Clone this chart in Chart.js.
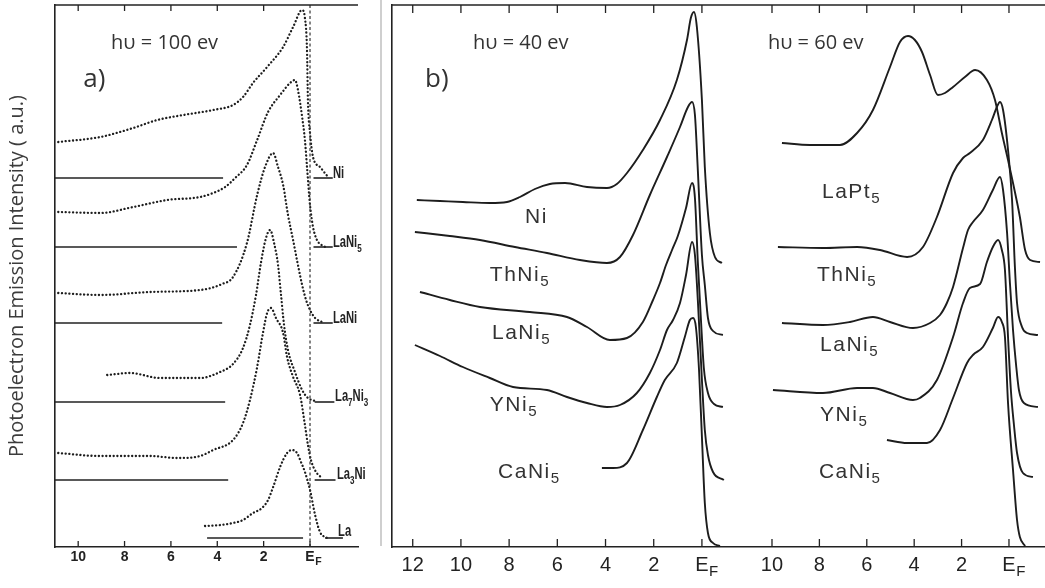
<!DOCTYPE html>
<html>
<head>
<meta charset="utf-8">
<script src="https://cdn.jsdelivr.net/npm/chart.js@4.4.1/dist/chart.umd.min.js"></script>
<style>
  html, body { margin: 0; padding: 0; background: #fff; }
  #wrap { position: relative; width: 1045px; height: 588px; overflow: hidden; }
  .box { position: absolute; top: 0; height: 588px; }
  #sep { position: absolute; left: 380px; top: 0; width: 2px; height: 546px; background: #cfcfcf; }
</style>
</head>
<body>
<div id="wrap">
  <div class="box" style="left:0;width:378px"><canvas id="chartA"></canvas></div>
  <div id="sep"></div>
  <div class="box" style="left:380px;width:360px"><canvas id="chartB"></canvas></div>
  <div class="box" style="left:740px;width:305px"><canvas id="chartC"></canvas></div>
</div>
<script>
// binding energy ticks (eV below E_F), 0 is E_F
const ticksA = [10, 8, 6, 4, 2, 0];
const ticks40 = [12, 10, 8, 6, 4, 2, 0];
const ticks60 = [10, 8, 6, 4, 2, 0];

// panel a, hv = 100 eV : [energy, intensity a.u.]
const a100Ni = [[10.86,405],[9.05,410],[7.63,419],[6.59,427],[5.47,432],[4.18,437],[3.32,442],[2.89,450],[2.46,464],[1.85,480],[1.16,500],[0.73,520],[0.34,537],[0.22,529],[0.13,497],[0.09,447],[0,414],[-0.13,390],[-0.43,380],[-0.78,370]];
const a100LaNi5 = [[10.86,335],[9.05,334],[7.63,340],[6.16,347],[4.74,350],[4.18,354],[3.66,360],[3.23,369],[2.72,382],[2.28,407],[1.81,435],[1.29,452],[0.86,464],[0.65,467],[0.52,457],[0.34,430],[0.22,407],[0.13,380],[0,342],[-0.13,320],[-0.30,307],[-0.65,300]];
const a100LaNi = [[10.86,254],[9.05,252],[6.90,255],[4.74,257],[3.79,263],[3.32,270],[2.72,304],[2.28,352],[1.94,380],[1.59,394],[1.38,380],[1.16,362],[0.95,332],[0.73,307],[0.52,282],[0.34,262],[0.17,247],[0,237],[-0.22,229],[-0.52,225]];
const a100La7Ni3 = [[8.75,172],[7.76,174],[6.47,169],[4.74,169],[3.88,175],[3.32,183],[2.89,199],[2.59,222],[2.33,252],[2.11,285],[1.90,309],[1.72,317],[1.55,304],[1.38,282],[1.25,252],[1.12,222],[0.95,197],[0.65,175],[0.34,157],[0.09,149],[-0.22,146]];
const a100La3Ni = [[10.86,94],[9.05,91],[6.90,91],[5.73,89],[4.74,91],[4.18,97],[3.32,107],[2.89,124],[2.59,147],[2.28,180],[2.03,214],[1.85,234],[1.68,239],[1.47,229],[1.16,214],[0.99,190],[0.73,170],[0.43,152],[0.22,122],[0.09,102],[-0.04,87],[-0.26,75],[-0.52,69]];
const a100La = [[4.53,21],[3.88,22],[3.32,24],[2.89,27],[2.46,34],[2.07,39],[1.81,47],[1.59,60],[1.29,80],[0.99,94],[0.78,97],[0.56,94],[0.39,85],[0.22,75],[0,57],[-0.22,32],[-0.43,15],[-0.73,9]];
// zero lines: [from, to, level]
const a100BaseLeft = [[11,3.75,369],[11,3.15,300],[11,3.79,224],[11,3.66,145],[11,3.53,67],[4.44,0.30,9]];
const a100BaseRight = [[-0.15,-0.98,369],[-0.15,-0.98,300],[-0.15,-0.98,224],[-0.2,-1.05,145],[-0.2,-1.1,67],[-0.65,-1.42,9]];
const fermiLine = [[0,0],[0,542]];

// panel b, hv = 40 eV
const b40Ni = [[11.83,347],[10.87,346],[9.92,345],[8.80,344],[8.09,345],[7.55,350],[6.93,358],[6.31,363],[5.68,364],[4.77,360],[3.94,359],[3.53,363],[3.11,374],[2.45,397],[1.74,427],[1.04,467],[0.62,507],[0.46,529],[0.33,535],[0.21,520],[0,447],[-0.12,380],[-0.33,314],[-0.54,290],[-0.83,284]];
const b40ThNi5 = [[11.91,315],[10.46,311],[9.21,307],[7.76,300],[6.43,294],[5.06,287],[3.94,284],[3.40,290],[2.86,312],[2.16,352],[1.45,390],[0.91,420],[0.58,440],[0.41,445],[0.29,432],[0.17,377],[0,292],[-0.12,262],[-0.25,229],[-0.46,216],[-0.87,212]];
const b40LaNi5 = [[11.70,255],[10.46,247],[9.21,240],[7.14,235],[5.60,230],[4.77,220],[3.82,207],[3.11,209],[2.45,225],[2.03,247],[1.74,264],[1.49,282],[1.24,297],[1.00,311],[0.66,339],[0.41,364],[0.29,349],[0.17,285],[0.04,227],[-0.08,179],[-0.25,154],[-0.50,143],[-0.87,140]];
const b40YNi5 = [[11.91,202],[10.87,191],[9.92,180],[8.80,169],[7.84,160],[6.43,157],[5.60,150],[4.77,144],[3.94,140],[3.40,142],[2.70,154],[2.16,174],[1.74,197],[1.45,217],[1.20,227],[0.91,244],[0.66,272],[0.41,305],[0.29,292],[0.17,247],[0,167],[-0.12,117],[-0.25,92],[-0.46,75],[-0.91,67]];
const b40CaNi5 = [[4.15,79],[3.69,79],[3.11,84],[2.45,117],[1.87,150],[1.54,167],[1.04,184],[0.71,210],[0.50,227],[0.37,229],[0.25,220],[0.12,177],[0,110],[-0.12,44],[-0.25,14],[-0.46,4],[-0.75,1]];

// panel b, hv = 60 eV
const b60LaPt5 = [[9.58,404],[8.40,402],[7.13,402],[6.41,414],[5.74,437],[5.02,480],[4.60,505],[4.26,511],[3.97,507],[3.67,495],[3.33,472],[3.00,452],[2.70,454],[2.36,460],[1.86,470],[1.43,477],[0.93,467],[0.59,447],[0.30,414],[0.04,387],[-0.17,364],[-0.46,330],[-0.68,297],[-0.89,287],[-1.31,285]];
const b60ThNi5 = [[9.75,300],[7.85,299],[6.41,300],[5.44,297],[4.30,290],[3.63,300],[3.04,330],[2.36,374],[1.94,389],[1.65,394],[1.10,407],[0.72,427],[0.51,440],[0.38,445],[0.25,437],[0.04,397],[-0.13,347],[-0.25,280],[-0.34,244],[-0.55,220],[-0.76,214],[-1.22,212]];
const b60LaNi5 = [[9.58,224],[7.85,222],[6.71,225],[5.74,230],[5.02,225],[4.05,219],[3.33,224],[2.91,232],[2.62,244],[2.36,260],[1.94,299],[1.73,317],[1.52,325],[1.10,337],[0.68,357],[0.38,370],[0.25,357],[0.08,314],[-0.04,264],[-0.17,217],[-0.30,182],[-0.42,157],[-0.63,144],[-1.22,140]];
const b60YNi5 = [[9.96,157],[7.85,154],[6.41,159],[5.74,159],[5.02,154],[4.05,147],[3.76,149],[3.04,167],[2.36,210],[1.94,244],[1.65,259],[1.22,263],[0.93,285],[0.68,300],[0.46,307],[0.30,297],[0.17,277],[0.04,210],[-0.08,157],[-0.21,122],[-0.34,94],[-0.59,74],[-1.01,70]];
const b60CaNi5 = [[5.15,107],[4.30,104],[3.46,104],[2.91,117],[2.36,149],[1.77,184],[1.52,192],[1.10,200],[0.68,219],[0.46,230],[0.30,225],[0.17,210],[0.04,144],[-0.17,77],[-0.34,27],[-0.46,10],[-0.68,1]];

// text styles
const st = {
  head: { size: 20, family: '"Open Sans", sans-serif', color: '#333' },
  tag: { size: 26, family: '"Open Sans", sans-serif', color: '#333' },
  smallA: { size: 16, family: '"Liberation Sans", sans-serif', weight: 'bold', color: '#222', base: 'alphabetic', sx: 0.7 },
  lab: { size: 21, family: '"Liberation Sans", sans-serif', color: '#333', spacing: '1.5px' }
};

const textsA = [
  { t: 'hυ = 100 ev', x: 8.58, y: 504, s: st.head },
  { t: 'a)', x: 9.78, y: 467, s: st.tag },
  { t: 'Ni', x: -0.99, y: 369, s: st.smallA },
  { t: 'LaNi_5', x: -0.99, y: 300, s: st.smallA },
  { t: 'LaNi', x: -0.99, y: 224, s: st.smallA },
  { t: 'La_7Ni_3', x: -1.08, y: 146, s: st.smallA },
  { t: 'La_3Ni', x: -1.16, y: 68, s: st.smallA },
  { t: 'La', x: -1.21, y: 11, s: st.smallA }
];
const textsB = [
  { t: 'hυ = 40 ev', x: 9.50, y: 504, s: st.head },
  { t: 'b)', x: 11.49, y: 467, s: st.tag },
  { t: 'Ni', x: 7.34, y: 330, s: st.lab },
  { t: 'ThNi_5', x: 8.80, y: 272, s: st.lab },
  { t: 'LaNi_5', x: 8.71, y: 214, s: st.lab },
  { t: 'YNi_5', x: 8.80, y: 142, s: st.lab },
  { t: 'CaNi_5', x: 8.46, y: 75, s: st.lab }
];
const textsC = [
  { t: 'hυ = 60 ev', x: 10.17, y: 504, s: st.head },
  { t: 'LaPt_5', x: 7.89, y: 355, s: st.lab },
  { t: 'ThNi_5', x: 8.10, y: 272, s: st.lab },
  { t: 'LaNi_5', x: 7.97, y: 202, s: st.lab },
  { t: 'YNi_5', x: 7.97, y: 132, s: st.lab },
  { t: 'CaNi_5', x: 8.02, y: 75, s: st.lab }
];

const toXY = pts => pts.map(p => ({ x: p[0], y: p[1] }));

function curve(pts, dotted) {
  return {
    data: toXY(pts),
    borderColor: '#1d1d1d',
    borderWidth: dotted ? 2.3 : 1.9,
    borderDash: dotted ? [0.1, 3.6] : [],
    borderCapStyle: dotted ? 'round' : 'butt',
    cubicInterpolationMode: 'monotone',
    pointRadius: 0
  };
}
function zeroLine(b) {
  return { data: [{ x: b[0], y: b[2] }, { x: b[1], y: b[2] }], borderColor: '#222', borderWidth: 1.6, pointRadius: 0 };
}

// labels like LaNi_5 (single character after "_" is a subscript)
function drawRich(ctx, str, px, py, s) {
  const parts = [];
  for (let i = 0; i < str.length; i++) {
    if (str[i] === '_') { parts.push({ s: str[i + 1], sub: true }); i++; }
    else if (parts.length && !parts[parts.length - 1].sub) parts[parts.length - 1].s += str[i];
    else parts.push({ s: str[i], sub: false });
  }
  ctx.save();
  ctx.translate(px, py);
  ctx.scale(s.sx || 1, 1);
  ctx.fillStyle = s.color;
  ctx.textAlign = 'left';
  ctx.textBaseline = s.base || 'middle';
  if ('letterSpacing' in ctx) ctx.letterSpacing = s.spacing || '0px';
  let cx = 0;
  parts.forEach(p => {
    const size = p.sub ? s.size * 0.72 : s.size;
    ctx.font = `${s.weight || 'normal'} ${size}px ${s.family}`;
    ctx.fillText(p.s, cx, p.sub ? s.size * 0.33 : 0);
    cx += ctx.measureText(p.s).width;
  });
  ctx.restore();
}

const decor = {
  id: 'decor',
  afterDraw(chart, args, o) {
    const { ctx, chartArea: a } = chart;
    const xs = chart.scales.x, ys = chart.scales.y;
    ctx.save();
    ctx.strokeStyle = '#222';
    ctx.lineWidth = 1.6;
    ctx.beginPath(); ctx.moveTo(a.left, a.top); ctx.lineTo(a.right, a.top); ctx.stroke();
    ctx.lineWidth = 1.3;
    xs.ticks.forEach(t => {
      const px = xs.getPixelForValue(t.value);
      ctx.beginPath();
      ctx.moveTo(px, a.bottom); ctx.lineTo(px, a.bottom - o.tickLen);
      if (t.value !== 0 || o.topEF) { ctx.moveTo(px, a.top); ctx.lineTo(px, a.top + o.tickLen); }
      ctx.stroke();
    });
    // subscript F of E_F
    const f = o.tickFont;
    ctx.font = `${f.weight || 'normal'} ${f.size}px ${f.family}`;
    const ew = ctx.measureText('E').width;
    const ex = xs.getPixelForValue(0);
    const ey = a.bottom + o.tickPad + f.size * 0.6;
    ctx.font = `${f.weight || 'normal'} ${f.size * 0.75}px ${f.family}`;
    ctx.fillStyle = '#222';
    ctx.textAlign = 'left';
    ctx.textBaseline = 'middle';
    ctx.fillText('F', ex + ew / 2 + 0.5, ey + f.size * 0.35);
    o.texts.forEach(it => drawRich(ctx, it.t, xs.getPixelForValue(it.x), ys.getPixelForValue(it.y), it.s));
    ctx.restore();
  }
};

function xScale(min, max, ticks, font, pad) {
  return {
    type: 'linear', reverse: true, min: min, max: max,
    afterBuildTicks: s => { s.ticks = ticks.map(v => ({ value: v })); },
    afterFit: s => { s.height = 41; },
    grid: { display: false, drawTicks: false },
    border: { display: true, color: '#222', width: 1.6 },
    ticks: { font: font, color: '#222', padding: pad, maxRotation: 0, autoSkip: false,
             callback: v => (v === 0 ? 'E' : String(v)) }
  };
}
function yScale(show, width, title) {
  return {
    type: 'linear', min: 0, max: 542, display: show,
    afterFit: s => { s.width = width; },
    grid: { display: false, drawTicks: false },
    border: { display: show, color: '#222', width: 1.6 },
    ticks: { display: false },
    title: title || { display: false }
  };
}

function makeChart(id, datasets, xs, ys, padding, decorOpts) {
  return new Chart(document.getElementById(id), {
    type: 'line',
    data: { datasets: datasets },
    options: {
      responsive: true,
      maintainAspectRatio: false,
      animation: false,
      layout: { padding: padding },
      plugins: { legend: { display: false }, tooltip: { enabled: false }, decor: decorOpts },
      scales: { x: xs, y: ys }
    },
    plugins: [decor]
  });
}

const fontA = { family: '"Liberation Sans", sans-serif', size: 14, weight: 'bold' };
const fontB = { family: '"Liberation Sans", sans-serif', size: 20 };

makeChart('chartA',
  [
    ...a100BaseLeft.map(zeroLine),
    ...a100BaseRight.map(zeroLine),
    { data: toXY(fermiLine), borderColor: '#333', borderWidth: 1.2, borderDash: [3, 2.5], pointRadius: 0 },
    curve(a100Ni, true), curve(a100LaNi5, true), curve(a100LaNi, true),
    curve(a100La7Ni3, true), curve(a100La3Ni, true), curve(a100La, true)
  ],
  xScale(-2.07, 11, ticksA, fontA, 2),
  yScale(true, 55, {
    display: true, text: 'Photoelectron Emission Intensity ( a.u.)', color: '#3c3c3c',
    font: { family: '"Open Sans", sans-serif', size: 20 }, padding: { top: 5, bottom: 0 }
  }),
  { top: 5, right: 20, left: 0, bottom: 0 },
  { tickLen: 6, tickPad: 2, tickFont: fontA, topEF: false, texts: textsA }
);

makeChart('chartB',
  [curve(b40Ni), curve(b40ThNi5), curve(b40LaNi5), curve(b40YNi5), curve(b40CaNi5)],
  xScale(-1.58, 12.86, ticks40, fontB, 6),
  yScale(true, 12),
  { top: 5, right: 0, left: 0, bottom: 0 },
  { tickLen: 8, tickPad: 6, tickFont: fontB, topEF: true, texts: textsB }
);

makeChart('chartC',
  [curve(b60LaPt5), curve(b60ThNi5), curve(b60LaNi5), curve(b60YNi5), curve(b60CaNi5)],
  xScale(-1.52, 11.35, ticks60, fontB, 6),
  yScale(false, 0),
  { top: 5, right: 0, left: 0, bottom: 0 },
  { tickLen: 8, tickPad: 6, tickFont: fontB, topEF: true, texts: textsC }
);
</script>
</body>
</html>
